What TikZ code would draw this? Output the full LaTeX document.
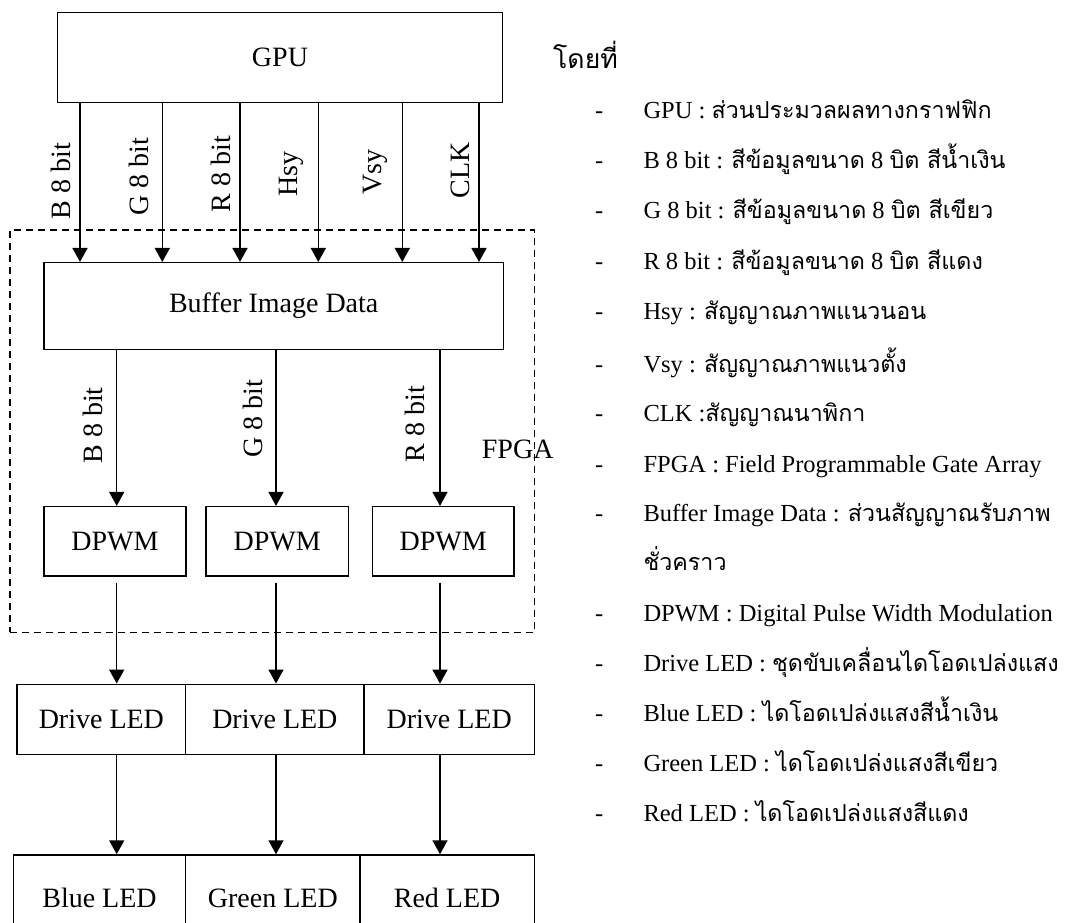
\documentclass[tikz,border=0pt]{standalone}
\usepackage{fontspec}
\setmainfont{Liberation Serif}
\newfontfamily\thaifont[Script=Thai,Scale=0.95]{Loma}
\usetikzlibrary{arrows.meta}

\newcommand\thaitxt[1]{{\thaifont #1}}

\begin{document}
\begin{tikzpicture}[x=1pt, y=-1pt,
  box/.style={draw, line width=1.5pt, inner sep=0pt,
    font=\fontsize{28}{32}\selectfont},
  arr/.style={line width=1.5pt, -{Triangle[length=14pt,width=15pt]}},
  lbl/.style={rotate=90, inner sep=0pt, font=\fontsize{28}{32}\selectfont},
  fpgaframe/.style={draw, line width=1.3pt, dash pattern=on 7pt off 5pt, inner sep=0pt},
  dashmark/.style={anchor=base west, inner sep=0pt, font=\fontsize{24.5}{28}\selectfont},
  entry/.style={anchor=base west, inner sep=0pt, font=\fontsize{24.5}{28}\selectfont}]

\useasboundingbox (0,0) rectangle (1065,922);
\clip (0,0) rectangle (1065,922);

% ---- FPGA frame ----
\node[fpgaframe, minimum width=524.3, minimum height=402.3] (fpga) at (272.15,431.15) {};
\node[anchor=west, inner sep=0pt, font=\fontsize{28}{32}\selectfont] (fpgalabel) at (481.7,449) {FPGA};

% ---- blocks ----
\node[box, minimum width=444.6, minimum height=90] (gpu) at (280,57.7) {GPU};
\node[box, minimum width=459.3, minimum height=86.6] (buf) at (273.7,306) {Buffer Image Data};

\node[box, minimum width=142, minimum height=69.3] (dp1) at (115,541.3) {DPWM};
\node[box, minimum width=142.3, minimum height=69.3] (dp2) at (277.2,541.3) {DPWM};
\node[box, minimum width=141.7, minimum height=69.3] (dp3) at (443.2,541.3) {DPWM};

\node[box, minimum width=168.7, minimum height=70] (dr1) at (101.35,719.3) {Drive LED};
\node[box, minimum width=178.3, minimum height=70] (dr2) at (274.85,719.3) {Drive LED};
\node[box, minimum width=170.3, minimum height=70] (dr3) at (449.15,719.3) {Drive LED};

\node[box, minimum width=172.4, minimum height=86] (le1) at (99.5,898) {Blue LED};
\node[box, minimum width=174.3, minimum height=86] (le2) at (272.85,898) {Green LED};
\node[box, minimum width=174.3, minimum height=86] (le3) at (447.15,898) {Red LED};

% ---- signal columns ----
\coordinate (t1) at (80,0);
\coordinate (t2) at (162.3,0);
\coordinate (t3) at (240,0);
\coordinate (t4) at (318.3,0);
\coordinate (t5) at (402.3,0);
\coordinate (t6) at (479,0);
\coordinate (k1) at (116.7,582.7);
\coordinate (k2) at (276,582.7);
\coordinate (k3) at (440,582.7);

% GPU -> Buffer
\foreach \c in {t1,t2,t3,t4,t5,t6}
  \draw[arr] (gpu.south -| \c) -- (buf.north -| \c);

\node[lbl] (lb1) at (60.7,181) {B 8 bit};
\node[lbl] (lb2) at (139,177) {G 8 bit};
\node[lbl] (lb3) at (220.7,174) {R 8 bit};
\node[lbl] (lb4) at (291,174) {Hsy};
\node[lbl] (lb5) at (375,172) {Vsy};
\node[lbl] (lb6) at (460,170) {CLK};

% Buffer -> DPWM
\draw[arr] (buf.south -| k1) -- (dp1.north -| k1);
\draw[arr] (buf.south -| k2) -- (dp2.north -| k2);
\draw[arr] (buf.south -| k3) -- (dp3.north -| k3);

\node[lbl] (lc1) at (92.5,425.5) {B 8 bit};
\node[lbl] (lc2) at (253,419) {G 8 bit};
\node[lbl] (lc3) at (414.5,424) {R 8 bit};

% DPWM -> Drive LED
\draw[arr] (k1) -- (dr1.north -| k1);
\draw[arr] (k2) -- (dr2.north -| k2);
\draw[arr] (k3) -- (dr3.north -| k3);

% Drive LED -> LED
\draw[arr] (dr1.south -| k1) -- (le1.north -| k1);
\draw[arr] (dr2.south -| k2) -- (le2.north -| k2);
\draw[arr] (dr3.south -| k3) -- (le3.north -| k3);

% ---- legend ----
\node[anchor=west, inner sep=0pt, font=\fontsize{28}{32}\selectfont] (head) at (553,55) {\thaitxt{โดยที่}};

\foreach \n/\y in {1/118,2/168.7,3/218.7,4/269.7,5/319.7,6/372,7/421.3,8/472,9/521.3,10/621,11/671.3,12/721.3,13/771.3,14/821.3}
  \node[dashmark] (d\n) at (595,\y) {-};

\node[entry] (e1) at (643.3,118) {GPU : \thaitxt{ส่วนประมวลผลทางกราฟฟิก}};
\node[entry] (e2) at (643.3,168.7) {B 8 bit : \thaitxt{สีข้อมูลขนาด} 8 \thaitxt{บิต สีน้ำเงิน}};
\node[entry] (e3) at (643.3,218.7) {G 8 bit : \thaitxt{สีข้อมูลขนาด} 8 \thaitxt{บิต สีเขียว}};
\node[entry] (e4) at (643.3,269.7) {R 8 bit : \thaitxt{สีข้อมูลขนาด} 8 \thaitxt{บิต สีแดง}};
\node[entry] (e5) at (643.3,319.7) {Hsy : \thaitxt{สัญญาณภาพแนวนอน}};
\node[entry] (e6) at (643.3,372) {Vsy : \thaitxt{สัญญาณภาพแนวตั้ง}};
\node[entry] (e7) at (643.3,421.3) {CLK :\thaitxt{สัญญาณนาพิกา}};
\node[entry] (e8) at (643.3,472) {FPGA : Field Programmable Gate Array};
\node[entry] (e9) at (643.3,521.3) {Buffer Image Data : \thaitxt{ส่วนสัญญาณรับภาพ}};
\node[entry] (e9b) at (643.3,570.5) {\thaitxt{ชั่วคราว}};
\node[entry] (e10) at (643.3,621) {DPWM : Digital Pulse Width Modulation};
\node[entry] (e11) at (643.3,671.3) {Drive LED : \thaitxt{ชุดขับเคลื่อนไดโอดเปล่งแสง}};
\node[entry] (e12) at (643.3,721.3) {Blue LED : \thaitxt{ไดโอดเปล่งแสงสีน้ำเงิน}};
\node[entry] (e13) at (643.3,771.3) {Green LED : \thaitxt{ไดโอดเปล่งแสงสีเขียว}};
\node[entry] (e14) at (643.3,821.3) {Red LED : \thaitxt{ไดโอดเปล่งแสงสีแดง}};

\end{tikzpicture}
\end{document}
